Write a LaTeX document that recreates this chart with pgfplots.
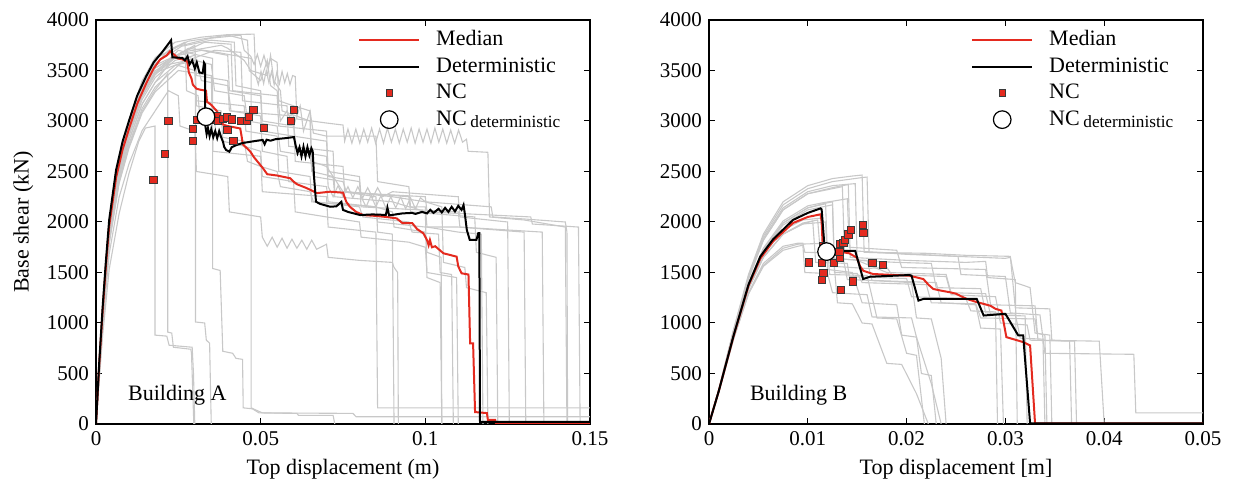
\documentclass[border=0pt]{standalone}
\usepackage{fontspec}
\setmainfont{Liberation Serif}
\usepackage{pgfplots}
\pgfplotsset{compat=1.18}
\definecolor{cRed}{HTML}{E42A1F}
\definecolor{cGray}{HTML}{C8C8C8}
\definecolor{cEdge}{HTML}{3A3A3A}

\pgfplotsset{
  pan/.style={
    scale only axis, width=247pt, height=202pt,
    ymin=0, ymax=4000, ytick={0,500,...,4000},
    scaled x ticks=false, scaled y ticks=false,
    tick align=inside, major tick length=3pt,
    axis line style={line width=0.6pt},
    every tick/.style={black, line width=0.5pt},
    /pgf/number format/1000 sep={},
    /pgf/number format/assume math mode=true,
    tick label style={font=\fontsize{10.5}{12}\selectfont},
    label style={font=\fontsize{11}{13}\selectfont},
    legend style={draw=none, fill=none, font=\fontsize{11}{13}\selectfont,
      at={(0.53,0.985)}, anchor=north west, row sep=0.5pt, inner sep=0pt,
      /tikz/every odd column/.append style={column sep=6pt}},
    legend cell align=left,
  },
  gl/.style={cGray, line width=0.55pt, forget plot},
  med/.style={cRed, line width=1pt, forget plot},
  det/.style={black, line width=1pt, forget plot},
  nc/.style={only marks, mark=square*, mark size=1.8pt,
    mark options={fill=cRed, draw=cEdge, line width=0.4pt}, forget plot},
  ncd/.style={only marks, mark=*, mark size=4.4pt,
    mark options={fill=white, draw=black, line width=0.6pt}, forget plot},
}
\newcommand{\legimgs}{%
  \addlegendimage{cRed, line width=1pt}
  \addlegendentry{Median}
  \addlegendimage{black, line width=1pt}
  \addlegendentry{Deterministic}
  \addlegendimage{only marks, mark=square*, mark size=1.6pt, mark options={fill=cRed, draw=cEdge, line width=0.4pt}}
  \addlegendentry{NC}
  \addlegendimage{only marks, mark=o, mark size=4.4pt, mark options={draw=black, line width=0.6pt}}
  \addlegendentry{NC\,{\fontsize{8.6}{9}\selectfont\raisebox{-0.3ex}{deterministic}}}
}

\begin{document}
\begin{tikzpicture}
\useasboundingbox (0,0) rectangle (616.5pt,243pt);

% ---------------- Building A ----------------
\begin{axis}[pan, at={(48pt,31pt)}, anchor=south west,
  xmin=0, xmax=0.15, xtick={0,0.05,0.1,0.15}, xticklabels={0,0.05,0.1,0.15},
  xlabel={Top displacement (m)}, ylabel={Base shear (kN)},
  legend image code/.code={\draw[mark repeat=2,mark phase=2,#1] plot coordinates {(0pt,0pt) (15pt,0pt) (30pt,0pt)};},
]
\legimgs
\addplot[gl] coordinates {(0,0)(0.002,1119)(0.004,1969)(0.007,2625)(0.010,3011)(0.014,3397)(0.018,3628)(0.024,3780)(0.032,3830)(0.040,3855)(0.048,3860)(0.0485,3450)(0.0493,3360)(0.0501,3490)(0.0509,3370)(0.0517,3500)(0.0525,3380)(0.0533,3490)(0.0541,3360)(0.0549,3480)(0.0557,3370)(0.0565,3490)(0.0573,3380)(0.0581,3470)(0.0589,3360)(0.0597,3450)(0.0605,3440)(0.061,3020)(0.07,2980)(0.075,2960)(0.0755,2800)(0.0765,2920)(0.0777,2780)(0.0789,2920)(0.0801,2780)(0.0813,2920)(0.0825,2790)(0.0837,2930)(0.0849,2780)(0.0861,2920)(0.0873,2780)(0.0885,2930)(0.0897,2790)(0.0909,2920)(0.0921,2780)(0.0933,2920)(0.0945,2790)(0.0957,2930)(0.0969,2780)(0.0981,2920)(0.0993,2790)(0.1005,2920)(0.1017,2780)(0.1029,2930)(0.1041,2790)(0.1053,2920)(0.1065,2780)(0.1077,2910)(0.1089,2780)(0.1101,2910)(0.1113,2790)(0.1125,2820)(0.113,2700)(0.119,2690)(0.1195,2050)(0.13,2020)(0.1425,1950)(0.143,0)(0.15,0)};
\addplot[gl] coordinates {(0,0)(0.002,1096)(0.004,1928)(0.007,2570)(0.010,2948)(0.014,3326)(0.018,3553)(0.022,3700)(0.027,3780)(0.0275,3300)(0.031,3250)(0.0315,3050)(0.036,3000)(0.0365,2850)(0.045,2800)(0.046,2600)(0.05,2550)(0.055,2500)(0.056,2350)(0.065,2300)(0.066,2200)(0.08,2150)(0.081,2050)(0.095,2000)(0.096,1900)(0.104,1880)(0.1045,1500)(0.108,1480)(0.1085,0)};
\addplot[gl] coordinates {(0,0)(0.002,870)(0.004,1530)(0.007,2080)(0.010,2480)(0.013,2800)(0.015,2930)(0.0179,2950)(0.0179,880)(0.0215,870)(0.0222,780)(0.0292,760)(0.0296,500)(0.030,0)};
\addplot[gl] coordinates {(0,0)(0.002,1021)(0.004,1795)(0.007,2394)(0.010,2746)(0.014,3098)(0.018,3309)(0.0218,3470)(0.0218,910)(0.023,900)(0.0235,760)(0.0288,740)(0.029,700)(0.0294,300)(0.0297,0)};
\addplot[gl] coordinates {(0,0)(0.002,1044)(0.004,1836)(0.007,2448)(0.010,2808)(0.014,3168)(0.018,3384)(0.022,3560)(0.028,3600)(0.0302,3560)(0.0302,1010)(0.033,1000)(0.0335,830)(0.0345,800)(0.0348,300)(0.035,0)};
\addplot[gl] coordinates {(0,0)(0.002,1073)(0.004,1887)(0.007,2516)(0.010,2886)(0.014,3256)(0.018,3478)(0.025,3700)(0.030,3660)(0.0354,3620)(0.0354,1540)(0.0377,1520)(0.0385,720)(0.0415,700)(0.0425,650)(0.0445,640)(0.0447,160)(0.0475,150)(0.0495,110)(0.061,105)(0.0615,85)(0.072,85)(0.0725,0)};
\addplot[gl] coordinates {(0,0)(0.002,1079)(0.004,1897)(0.007,2530)(0.010,2902)(0.014,3274)(0.018,3497)(0.028,3720)(0.035,3690)(0.040,3660)(0.0471,3620)(0.0471,160)(0.0505,110)(0.078,105)(0.079,72)(0.15,72)};
\addplot[gl] coordinates {(0,0)(0.002,1117)(0.004,1964)(0.007,2618)(0.010,3003)(0.014,3388)(0.018,3619)(0.025,3740)(0.035,3820)(0.044,3850)(0.045,3700)(0.047,3640)(0.048,3560)(0.049,3660)(0.050,3540)(0.051,3650)(0.052,3530)(0.053,3620)(0.055,3580)(0.0555,3200)(0.06,3150)(0.065,3100)(0.0655,2600)(0.07,2550)(0.075,2300)(0.085,2250)(0.0855,1900)(0.090,1880)(0.0905,0)};
\addplot[gl] coordinates {(0,0)(0.002,1059)(0.004,1862)(0.007,2482)(0.010,2847)(0.014,3212)(0.018,3431)(0.024,3600)(0.03,3650)(0.032,3400)(0.04,3350)(0.041,3100)(0.05,3050)(0.0505,2700)(0.058,2650)(0.0585,2400)(0.07,2350)(0.0705,2200)(0.085,2150)(0.09,2100)(0.0905,1950)(0.1,1900)(0.1005,1700)(0.1048,1650)(0.105,0)};
\addplot[gl] coordinates {(0,0)(0.002,1088)(0.004,1913)(0.007,2550)(0.010,2925)(0.014,3300)(0.018,3525)(0.026,3680)(0.038,3750)(0.04,3720)(0.045,3600)(0.047,3500)(0.052,3450)(0.053,3650)(0.054,3400)(0.056,3300)(0.0565,3100)(0.065,3000)(0.0655,2500)(0.072,2450)(0.0725,2250)(0.09,2200)(0.095,2150)(0.1,2150)(0.1005,1950)(0.11,1900)(0.117,1880)(0.1175,0)};
\addplot[gl] coordinates {(0,0)(0.002,1073)(0.004,1887)(0.007,2516)(0.010,2886)(0.014,3256)(0.018,3478)(0.025,3650)(0.032,3700)(0.04,3650)(0.0405,3300)(0.05,3250)(0.0505,2900)(0.06,2850)(0.07,2800)(0.0705,2500)(0.08,2450)(0.0805,2250)(0.082,2150)(0.0835,2260)(0.085,2150)(0.0865,2260)(0.088,2140)(0.0895,2250)(0.091,2140)(0.0925,2250)(0.094,2130)(0.0955,2240)(0.097,2130)(0.0985,2240)(0.1,2200)(0.12,2150)(0.1205,2050)(0.13,2030)(0.1425,2000)(0.143,1900)(0.1432,0)};
\addplot[gl] coordinates {(0,0)(0.002,1030)(0.004,1811)(0.007,2414)(0.010,2769)(0.014,3124)(0.018,3337)(0.025,3550)(0.03,3500)(0.0305,3150)(0.038,3100)(0.0385,2800)(0.045,2750)(0.05,2700)(0.0505,2450)(0.06,2400)(0.0605,2100)(0.07,2050)(0.08,2000)(0.0805,1850)(0.095,1800)(0.1,1750)(0.1005,1500)(0.1095,1450)(0.11,0)};
\addplot[gl] coordinates {(0,0)(0.002,957)(0.004,1683)(0.007,2244)(0.010,2574)(0.014,2904)(0.018,3102)(0.022,3300)(0.025,3250)(0.0255,2950)(0.03,2900)(0.0305,2500)(0.04,2450)(0.0405,2100)(0.05,2050)(0.0505,1850)(0.052,1760)(0.0535,1850)(0.055,1750)(0.0565,1840)(0.058,1740)(0.0595,1830)(0.061,1740)(0.0625,1820)(0.064,1730)(0.0655,1820)(0.067,1730)(0.07,1780)(0.0705,1650)(0.08,1620)(0.09,1600)(0.0905,1550)(0.0916,1500)(0.0918,0)};
\addplot[gl] coordinates {(0,0)(0.002,1044)(0.004,1836)(0.007,2448)(0.010,2808)(0.014,3168)(0.018,3384)(0.024,3550)(0.03,3600)(0.035,3560)(0.036,3300)(0.045,3250)(0.046,3000)(0.055,2950)(0.056,2700)(0.065,2650)(0.066,2450)(0.075,2400)(0.076,2300)(0.09,2250)(0.1,2200)(0.105,2150)(0.1055,1600)(0.112,1550)(0.1125,1350)(0.1185,1300)(0.119,0)};
\addplot[gl] coordinates {(0,0)(0.002,1102)(0.004,1938)(0.007,2584)(0.010,2964)(0.014,3344)(0.018,3572)(0.026,3740)(0.035,3800)(0.042,3780)(0.0425,3350)(0.05,3300)(0.0505,3000)(0.06,2950)(0.061,2700)(0.07,2650)(0.0705,2350)(0.072,2250)(0.0735,2360)(0.075,2250)(0.0765,2350)(0.078,2240)(0.0795,2350)(0.081,2240)(0.0825,2340)(0.084,2240)(0.0855,2340)(0.087,2250)(0.09,2300)(0.11,2250)(0.1105,2050)(0.125,2000)(0.1255,0)};
\addplot[gl] coordinates {(0,0)(0.002,1067)(0.004,1877)(0.007,2502)(0.010,2870)(0.014,3238)(0.018,3459)(0.026,3680)(0.03,3600)(0.0305,3200)(0.045,3150)(0.0455,2900)(0.055,2850)(0.0555,2500)(0.065,2450)(0.0655,2200)(0.085,2150)(0.0855,2000)(0.1,1950)(0.11,1950)(0.13,1900)(0.1305,0)};
\addplot[gl] coordinates {(0,0)(0.002,1117)(0.004,1964)(0.007,2618)(0.010,3003)(0.014,3388)(0.018,3619)(0.028,3790)(0.04,3850)(0.046,3800)(0.0465,3500)(0.05,3400)(0.052,3600)(0.053,3350)(0.055,3300)(0.056,3000)(0.058,3100)(0.06,2950)(0.062,3150)(0.063,2900)(0.065,3100)(0.066,2880)(0.07,2850)(0.085,2850)(0.0855,2400)(0.095,2350)(0.0955,2150)(0.1,2100)(0.1005,1450)(0.1045,1400)(0.105,0)};
\addplot[gl] coordinates {(0,0)(0.002,1015)(0.004,1785)(0.007,2380)(0.010,2730)(0.014,3080)(0.018,3290)(0.025,3500)(0.035,3450)(0.0355,2700)(0.05,2650)(0.0505,2300)(0.07,2250)(0.0705,1950)(0.085,1900)(0.0855,160)(0.15,160)};
\addplot[gl] coordinates {(0,0)(0.002,1088)(0.004,1913)(0.007,2550)(0.010,2925)(0.014,3300)(0.018,3525)(0.03,3750)(0.0305,3450)(0.04,3400)(0.0405,3100)(0.06,3050)(0.0605,2600)(0.075,2550)(0.0755,2300)(0.095,2250)(0.0955,2100)(0.115,2050)(0.1155,1700)(0.1215,1650)(0.122,0)};
\addplot[gl] coordinates {(0,0)(0.002,1096)(0.004,1928)(0.007,2570)(0.010,2948)(0.014,3326)(0.018,3553)(0.033,3780)(0.041,3760)(0.0415,3300)(0.055,3250)(0.0555,2950)(0.07,2900)(0.0705,2450)(0.08,2400)(0.0805,2150)(0.11,2100)(0.1105,1950)(0.1355,1900)(0.136,0)};
\addplot[gl] coordinates {(0,0)(0.002,1073)(0.004,1887)(0.007,2516)(0.010,2886)(0.014,3256)(0.018,3478)(0.036,3700)(0.044,3680)(0.0445,3200)(0.058,3150)(0.0585,2750)(0.072,2700)(0.0725,2300)(0.1,2250)(0.1005,2100)(0.132,2050)(0.1325,1980)(0.1465,1950)(0.147,0)};
% median
\addplot[med] coordinates {(0,0)(0.001,600)(0.002,1110)(0.003,1560)(0.004,1960)(0.0061,2440)(0.0081,2720)(0.0101,2930)(0.0125,3170)(0.0152,3370)(0.0175,3520)(0.0195,3610)(0.0215,3650)(0.0225,3690)(0.0232,3670)(0.0240,3650)(0.0248,3620)(0.0262,3610)(0.0277,3590)(0.0282,3480)(0.0290,3420)(0.0294,3360)(0.0305,3320)(0.0316,3310)(0.0334,3300)(0.0337,3190)(0.0350,3160)(0.0368,3094)(0.0375,3030)(0.0386,2965)(0.0400,2950)(0.0438,2926)(0.0442,2850)(0.0446,2768)(0.0468,2700)(0.0480,2640)(0.0495,2580)(0.0507,2532)(0.0520,2473)(0.0550,2460)(0.0590,2433)(0.0600,2400)(0.0610,2374)(0.0640,2335)(0.0671,2286)(0.0711,2300)(0.0750,2290)(0.0760,2200)(0.0771,2151)(0.0790,2100)(0.0811,2069)(0.0850,2060)(0.0880,2050)(0.0913,2036)(0.0930,1990)(0.0960,1990)(0.0975,1930)(0.0994,1888)(0.1005,1822)(0.1010,1770)(0.1014,1822)(0.1020,1750)(0.1030,1760)(0.1055,1690)(0.1095,1657)(0.1100,1560)(0.1110,1492)(0.1131,1480)(0.1136,798)(0.1145,798)(0.1151,118)(0.1187,108)(0.1190,40)(0.1212,40)(0.1215,0)(0.15,0)};
% deterministic
\addplot[det] coordinates {(0,0)(0.001,620)(0.002,1150)(0.003,1610)(0.004,2020)(0.0061,2515)(0.0081,2800)(0.0101,3010)(0.0125,3250)(0.0152,3440)(0.0175,3580)(0.0202,3686)(0.0228,3800)(0.0232,3630)(0.0262,3625)(0.0270,3600)(0.0278,3640)(0.0284,3560)(0.0292,3600)(0.0300,3520)(0.0306,3580)(0.0314,3480)(0.0324,3475)(0.0328,3577)(0.0331,3560)(0.0332,2950)(0.0336,2870)(0.0340,2930)(0.0345,2850)(0.0350,2920)(0.0356,2840)(0.0362,2900)(0.0368,2830)(0.0374,2900)(0.0380,2840)(0.0386,2790)(0.0389,2745)(0.0395,2713)(0.0405,2696)(0.0412,2740)(0.0425,2760)(0.0445,2782)(0.0470,2795)(0.0490,2805)(0.0506,2812)(0.0512,2770)(0.0518,2815)(0.0530,2805)(0.0545,2820)(0.0575,2830)(0.0601,2841)(0.0606,2760)(0.0612,2683)(0.0618,2740)(0.0624,2650)(0.0630,2745)(0.0636,2650)(0.0642,2740)(0.0648,2660)(0.0654,2730)(0.0658,2700)(0.0662,2450)(0.0668,2201)(0.0680,2180)(0.0711,2151)(0.0730,2155)(0.0745,2200)(0.0750,2120)(0.0765,2100)(0.0802,2069)(0.0840,2075)(0.0880,2070)(0.0885,2140)(0.0890,2065)(0.0930,2085)(0.0960,2090)(0.0970,2080)(0.0990,2100)(0.1005,2085)(0.1015,2120)(0.1025,2090)(0.1040,2130)(0.1050,2095)(0.1060,2140)(0.1070,2100)(0.1080,2150)(0.1090,2105)(0.1100,2160)(0.1110,2120)(0.1116,2168)(0.1120,2080)(0.1126,1921)(0.1135,1822)(0.1155,1822)(0.1161,1891)(0.1164,1891)(0.1166,20)(0.15,20)};
% NC points
\addplot[nc] coordinates {(0.0174,2416)(0.0210,2673)(0.0220,3000)(0.0294,2918)(0.0294,2799)(0.0306,3010)(0.0330,3000)(0.0355,3010)(0.0366,3049)(0.0371,3003)(0.0385,3020)(0.0397,3036)(0.0412,3016)(0.0399,2911)(0.0417,2802)(0.0440,3000)(0.0458,3003)(0.0465,3042)(0.0478,3109)(0.0510,2933)(0.0592,3003)(0.0601,3109)};
\addplot[ncd] coordinates {(0.0334,3042)};
\node[anchor=base west, font=\fontsize{11}{13}\selectfont] at (axis cs:0.0076,230) {Building A};
\end{axis}

% ---------------- Building B ----------------
\begin{axis}[pan, at={(354.5pt,31pt)}, anchor=south west,
  xmin=0, xmax=0.05, xtick={0,0.01,0.02,0.03,0.04,0.05}, xticklabels={0,0.01,0.02,0.03,0.04,0.05},
  xlabel={Top displacement [m]},
  legend image code/.code={\draw[mark repeat=2,mark phase=2,#1] plot coordinates {(0pt,0pt) (15pt,0pt) (30pt,0pt)};},
]
\legimgs
\addplot[gl] coordinates {(0,0)(0.001,345)(0.0025,940)(0.004,1480)(0.0055,1880)(0.0075,2200)(0.010,2360)(0.0125,2430)(0.0145,2455)(0.0155,2465)(0.0157,1700)(0.019,1690)(0.025,1660)(0.030,1640)(0.0305,1650)(0.031,1400)(0.0325,1350)(0.033,900)(0.0345,880)(0.0347,0)};
\addplot[gl] coordinates {(0,0)(0.001,340)(0.0025,920)(0.004,1440)(0.0055,1820)(0.0075,2120)(0.010,2280)(0.0125,2340)(0.0135,2360)(0.0141,2370)(0.0143,1650)(0.02,1620)(0.026,1600)(0.028,1610)(0.0282,1450)(0.031,1430)(0.0312,0)};
\addplot[gl] coordinates {(0,0)(0.001,330)(0.0025,890)(0.004,1390)(0.0055,1720)(0.0075,1990)(0.010,2140)(0.0115,2180)(0.0125,2200)(0.0127,1560)(0.016,1540)(0.018,1550)(0.0185,1480)(0.024,1460)(0.0245,1280)(0.029,1260)(0.0295,1000)(0.0322,980)(0.0325,830)(0.0365,820)(0.0367,0)};
\addplot[gl] coordinates {(0,0)(0.001,330)(0.0025,885)(0.004,1380)(0.0055,1710)(0.0075,1970)(0.010,2120)(0.0125,2170)(0.0127,1500)(0.015,1490)(0.0155,1400)(0.022,1380)(0.0225,1200)(0.027,1190)(0.0275,1050)(0.033,1040)(0.0332,900)(0.034,880)(0.0342,0)};
\addplot[gl] coordinates {(0,0)(0.001,318)(0.0025,845)(0.004,1290)(0.0055,1560)(0.0075,1720)(0.009,1760)(0.0095,1770)(0.0097,1500)(0.012,1490)(0.0125,1300)(0.016,1280)(0.0165,1060)(0.0205,1050)(0.021,860)(0.0225,400)(0.0235,0)};
\addplot[gl] coordinates {(0,0)(0.001,325)(0.0025,870)(0.004,1340)(0.0055,1650)(0.0075,1880)(0.0095,1980)(0.0118,2000)(0.012,1530)(0.0145,1500)(0.0155,1200)(0.019,1180)(0.0195,880)(0.021,860)(0.0215,500)(0.0225,480)(0.023,0)};
\addplot[gl] coordinates {(0,0)(0.001,318)(0.0025,845)(0.004,1290)(0.0055,1570)(0.0075,1740)(0.009,1780)(0.012,1790)(0.0122,1480)(0.016,1470)(0.017,1050)(0.019,1040)(0.020,700)(0.021,680)(0.0218,0)};
\addplot[gl] coordinates {(0,0)(0.001,340)(0.0025,920)(0.004,1440)(0.0055,1820)(0.0075,2120)(0.010,2280)(0.0125,2330)(0.0135,2350)(0.0137,1720)(0.017,1700)(0.02,1680)(0.0252,1660)(0.0255,1480)(0.03,1460)(0.0305,1100)(0.0335,1080)(0.034,700)(0.043,690)(0.0432,110)(0.05,110)};
\addplot[gl] coordinates {(0,0)(0.001,330)(0.0025,890)(0.004,1390)(0.0055,1720)(0.0075,1990)(0.010,2140)(0.0118,2180)(0.012,1650)(0.015,1620)(0.018,1500)(0.024,1480)(0.0245,1300)(0.028,1290)(0.0285,1080)(0.032,1070)(0.0322,0)};
\addplot[gl] coordinates {(0,0)(0.001,325)(0.0025,870)(0.004,1340)(0.0055,1650)(0.0075,1880)(0.0095,1980)(0.0105,2010)(0.0108,1600)(0.014,1590)(0.0142,1460)(0.02,1440)(0.0205,1260)(0.026,1240)(0.0265,1120)(0.029,1110)(0.0292,0)};
\addplot[gl] coordinates {(0,0)(0.001,345)(0.0025,935)(0.004,1470)(0.0055,1860)(0.0075,2170)(0.010,2330)(0.0125,2400)(0.0155,2440)(0.016,2445)(0.0162,1700)(0.022,1690)(0.026,1670)(0.0305,1660)(0.031,1150)(0.0345,1140)(0.0347,830)(0.037,820)(0.0372,0)};
\addplot[gl] coordinates {(0,0)(0.001,320)(0.0025,850)(0.004,1300)(0.0055,1590)(0.0075,1760)(0.009,1790)(0.0095,1790)(0.0097,1700)(0.0135,1690)(0.014,1430)(0.023,1400)(0.0235,1200)(0.027,1180)(0.0275,950)(0.0295,940)(0.0298,0)};
\addplot[gl] coordinates {(0,0)(0.001,332)(0.0025,895)(0.004,1400)(0.0055,1740)(0.0075,2010)(0.010,2160)(0.0115,2190)(0.014,2230)(0.0142,1750)(0.019,1720)(0.0195,1550)(0.028,1530)(0.0285,1180)(0.033,1170)(0.0333,830)(0.0395,820)(0.04,0)};
\addplot[gl] coordinates {(0,0)(0.001,325)(0.0025,870)(0.004,1340)(0.0055,1650)(0.0075,1880)(0.0095,1990)(0.011,2020)(0.0112,1780)(0.0125,1770)(0.013,1200)(0.0145,1190)(0.0155,1000)(0.0165,990)(0.018,600)(0.0195,590)(0.021,300)(0.0222,0)};
\addplot[gl] coordinates {(0,0)(0.001,340)(0.0025,925)(0.004,1450)(0.0055,1840)(0.0075,2140)(0.010,2300)(0.0125,2360)(0.0148,2380)(0.015,1620)(0.019,1600)(0.0225,1590)(0.023,1350)(0.0275,1340)(0.028,1100)(0.031,1090)(0.0315,850)(0.0338,840)(0.034,0)};
\addplot[gl] coordinates {(0,0)(0.001,328)(0.0025,880)(0.004,1360)(0.0055,1680)(0.0075,1920)(0.0095,2020)(0.0115,2040)(0.0117,1640)(0.016,1620)(0.0165,1420)(0.0205,1400)(0.021,1050)(0.0225,1040)(0.0235,650)(0.024,0)};
% median
\addplot[med] coordinates {(0,0)(0.001,330)(0.0025,875)(0.004,1370)(0.0052,1640)(0.0065,1810)(0.0085,1990)(0.010,2050)(0.0113,2076)(0.0114,2000)(0.0115,1780)(0.0126,1720)(0.0136,1700)(0.0142,1690)(0.01495,1648)(0.0153,1560)(0.01562,1517)(0.0166,1485)(0.0203,1468)(0.0217,1435)(0.0222,1380)(0.0227,1337)(0.0235,1320)(0.0244,1304)(0.025,1290)(0.0255,1265)(0.0261,1238)(0.027,1210)(0.0278,1189)(0.0285,1170)(0.029,1140)(0.0296,1123)(0.0301,860)(0.0318,811)(0.0325,778)(0.033,7)(0.05,7)};
% deterministic
\addplot[det] coordinates {(0,0)(0.001,330)(0.0025,880)(0.004,1380)(0.0052,1660)(0.0065,1830)(0.0085,2020)(0.010,2090)(0.0113,2135)(0.0114,2125)(0.0117,1747)(0.0126,1697)(0.0136,1714)(0.0148,1714)(0.0156,1435)(0.0163,1458)(0.0203,1475)(0.0205,1468)(0.0212,1222)(0.0217,1238)(0.0271,1238)(0.0278,1074)(0.0300,1091)(0.0313,877)(0.0318,877)(0.0325,7)(0.05,7)};
% NC points
\addplot[nc] coordinates {(0.01015,1599)(0.0114,1593)(0.01157,1494)(0.0114,1425)(0.01265,1596)(0.01326,1642)(0.01319,1707)(0.01326,1780)(0.0136,1796)(0.01377,1826)(0.0141,1878)(0.01437,1921)(0.01556,1970)(0.01562,1895)(0.01653,1596)(0.01764,1576)(0.01454,1412)(0.01333,1327)(0.0115,1763)};
\addplot[ncd] coordinates {(0.0119,1707)};
\node[anchor=base west, font=\fontsize{11}{13}\selectfont] at (axis cs:0.00344,230) {Building B};
\end{axis}
\end{tikzpicture}
\end{document}
